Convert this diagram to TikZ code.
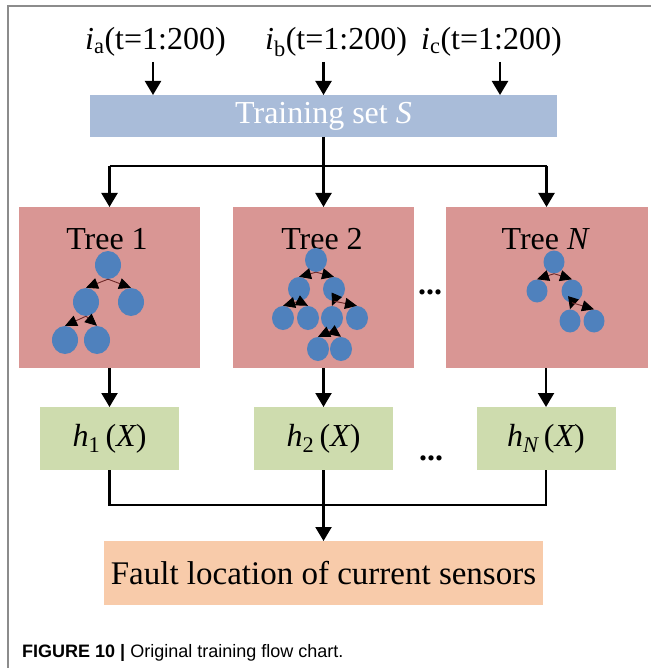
\documentclass[tikz,border=0pt]{standalone}
\usepackage{fontspec}
\setmainfont{Liberation Serif}
\newfontfamily\capfont{Liberation Sans}
\usetikzlibrary{arrows.meta,shapes.geometric}
\definecolor{trainblue}{RGB}{169,188,217}
\definecolor{treered}{RGB}{217,150,148}
\definecolor{hgreen}{RGB}{206,220,174}
\definecolor{peach}{RGB}{248,203,170}
\definecolor{nodeblue}{RGB}{79,129,189}
\definecolor{framegray}{RGB}{140,140,140}
\definecolor{twig}{RGB}{110,40,40}
\begin{document}
\begin{tikzpicture}[x=1pt,y=-1pt,
  box/.style={draw=none,inner sep=0pt,outer sep=0pt},
  big/.style={font=\fontsize{32}{38}\selectfont},
  ln/.style={line width=2.2pt,black},
  arr/.style={line width=2.2pt,black,-{Triangle[length=14pt,width=16pt]}},
  tnode/.style={ellipse,fill=nodeblue,draw=none,inner sep=0pt},
  twigarr/.style={line width=0.9pt,twig,-{Triangle[length=12pt,width=11pt,color=black]}},
  lbl/.style={inner sep=0pt,anchor=base west,big}]
\useasboundingbox (0,0) rectangle (651,668);
\fill[white] (0,0) rectangle (651,668);
\draw[framegray,line width=1.6pt] (8,668) -- (8,6) -- (651,6);

% input labels
\node[lbl] (ia) at (85,50) {{\itshape i}\textsubscript{a}(t=1:200)};
\node[lbl] (ib) at (265,50) {{\itshape i}\textsubscript{b}(t=1:200)};
\node[lbl] (ic) at (421,50) {{\itshape i}\textsubscript{c}(t=1:200)};
\coordinate (sa) at (153,62);
\coordinate (sb) at (323.5,62);
\coordinate (sc) at (500,62);

% training set
\node[box,fill=trainblue,minimum width=467pt,minimum height=42pt,big,text=white] (train) at (323.5,116) {Training set {\itshape S}};
\draw[arr] (sa) -- (sa |- train.north);
\draw[arr] (sb) -- (sb |- train.north);
\draw[arr] (sc) -- (sc |- train.north);

% tree boxes
\node[box,fill=treered,minimum width=181pt,minimum height=161pt] (t1) at (109.5,287.5) {};
\node[box,fill=treered,minimum width=181pt,minimum height=161pt] (t2) at (323.5,287.5) {};
\node[box,fill=treered,minimum width=202pt,minimum height=161pt] (tN) at (546.5,287.5) {};
\node[big,inner sep=0pt,anchor=base] (t1t) at (107,249) {Tree 1};
\node[big,inner sep=0pt,anchor=base] (t2t) at (322,249) {Tree 2};
\node[big,inner sep=0pt,anchor=base] (tNt) at (545,249) {Tree {\itshape N}};
\node[inner sep=0pt,anchor=base,font=\fontsize{32}{32}\selectfont\bfseries] (d1) at (430,294) {...};

\coordinate (split) at (323.5,166);
\draw[ln] (train.south) -- (split);
\draw[ln] (t1.north |- split) -- (tN.north |- split);
\draw[arr] (t1.north |- split) -- (t1.north);
\draw[arr] (split) -- (t2.north);
\draw[arr] (tN.north |- split) -- (tN.north);

% tree 1
\begin{scope}[every node/.style={tnode,minimum width=26pt,minimum height=28pt}]
\node (a0) at (108,265) {};
\node (a1) at (86,302) {};
\node (a2) at (131,302) {};
\node (a3) at (65,340) {};
\node (a4) at (97,340) {};
\end{scope}
\draw[twigarr] (a0.south) -- (a1.north);
\draw[twigarr] (a0.south) -- (a2.north);
\draw[twigarr] (a1.south) -- (a3.north);
\draw[twigarr] (a1.south) -- (a4.north);

% tree 2
\begin{scope}[every node/.style={tnode,minimum width=22pt,minimum height=24pt}]
\node (b0) at (316,260) {};
\node (b1) at (299,289) {};
\node (b2) at (334,289) {};
\node (b3) at (283,318) {};
\node (b4) at (308,318) {};
\node (b5) at (332,318) {};
\node (b6) at (357,318) {};
\node (b7) at (318,349) {};
\node (b8) at (341,349) {};
\end{scope}
\draw[twigarr] (b0.south) -- (b1.north);
\draw[twigarr] (b0.south) -- (b2.north);
\draw[twigarr] (b1.south) -- (b3.north);
\draw[twigarr] (b1.south) -- (b4.north);
\draw[twigarr] (b2.south) -- (b5.north);
\draw[twigarr] (b2.south) -- (b6.north);
\draw[twigarr] (b5.south) -- (b7.north);
\draw[twigarr] (b5.south) -- (b8.north);

% tree N
\begin{scope}[every node/.style={tnode,minimum width=21pt,minimum height=23pt}]
\node (c0) at (554,262) {};
\node (c1) at (537,291) {};
\node (c2) at (572,291) {};
\node (c3) at (570,321) {};
\node (c4) at (594,321) {};
\end{scope}
\draw[twigarr] (c0.south) -- (c1.north);
\draw[twigarr] (c0.south) -- (c2.north);
\draw[twigarr] (c2.south) -- (c3.north);
\draw[twigarr] (c2.south) -- (c4.north);

% h boxes
\node[box,fill=hgreen,minimum width=139pt,minimum height=63pt,big] (h1) at (109.5,438.5) {{\itshape h}\textsubscript{1}\,({\itshape X})};
\node[box,fill=hgreen,minimum width=139pt,minimum height=63pt,big] (h2) at (323.5,438.5) {{\itshape h}\textsubscript{2}\,({\itshape X})};
\node[box,fill=hgreen,minimum width=139pt,minimum height=63pt,big] (hN) at (546,438.5) {{\itshape h}\textsubscript{\itshape N}\,({\itshape X})};
\node[inner sep=0pt,anchor=base,font=\fontsize{32}{32}\selectfont\bfseries] (d2) at (431,460) {...};

\draw[arr] (t1.south) -- (h1.north);
\draw[arr] (t2.south) -- (h2.north);
\draw[arr] (tN.south -| hN.north) -- (hN.north);

% fault box
\node[box,fill=peach,minimum width=439pt,minimum height=64pt,big,font=\fontsize{33}{38}\selectfont] (fault) at (323.5,573) {Fault location of current sensors};
\coordinate (join) at (323.5,505);
\draw[ln] (h1.south) -- (h1.south |- join) -- (hN.south |- join) -- (hN.south);
\draw[ln] (h2.south) -- (join);
\draw[arr] (join) -- (fault.north);

% caption
\node[inner sep=0pt,anchor=base west,font=\capfont\fontsize{18}{20}\selectfont] (cap) at (22,657) {\textbf{FIGURE 10 |} Original training flow chart.};
\end{tikzpicture}
\end{document}
